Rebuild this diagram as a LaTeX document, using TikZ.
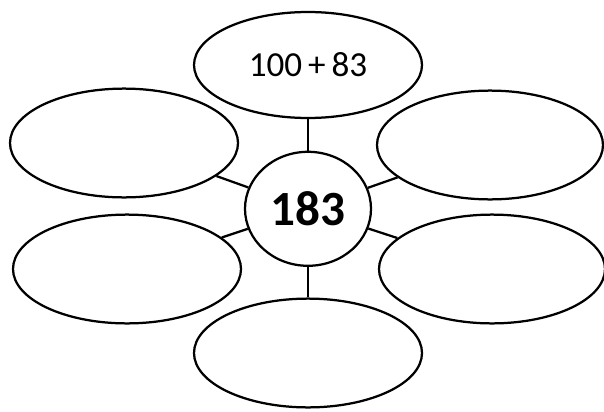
\documentclass[tikz,border=0pt]{standalone}
\usepackage{fontspec}
\setmainfont{Carlito}
\usetikzlibrary{shapes.geometric, positioning, calc}

\tikzset{
  bubble/.style={ellipse, draw=black, line width=1.6pt, fill=white, minimum width=5.7cm, minimum height=2.72cm, inner sep=0pt},
  hub/.style={ellipse, draw=black, line width=1.6pt, fill=white, minimum width=3.15cm, minimum height=2.85cm, inner sep=0pt},
  spoke/.style={line width=1.6pt}
}

\begin{document}
\begin{tikzpicture}
      \useasboundingbox (0, 0) rectangle (15.1, -10.275);

      \node[hub, font=\bfseries\fontsize{35}{40}\selectfont] (mid) at (7.7, -5.22) {183\hspace{10pt}};

      \node[bubble, minimum height=2.65cm, font=\fontsize{25}{30}\selectfont] (top) at (7.7, -1.625) {100\,+\,83\hspace{6pt}};
      \node[bubble] (bottom) at (7.7, -8.825) {};
      \node[bubble] (upleft) at (3.1, -3.575) {};
      \node[bubble] (lowleft) at (3.175, -6.725) {};
      \node[bubble, minimum width=5.65cm] (upright) at (12.25, -3.625) {};
      \node[bubble, minimum width=5.65cm] (lowright) at (12.3, -6.725) {};

      \draw[spoke] (mid) -- (top);
      \draw[spoke] (mid) -- (bottom);
      \draw[spoke] (mid) -- (upleft);
      \draw[spoke] (mid) -- (lowleft);
      \draw[spoke] (mid) -- (upright);
      \draw[spoke] (mid) -- (lowright);

    \end{tikzpicture}
\end{document}
